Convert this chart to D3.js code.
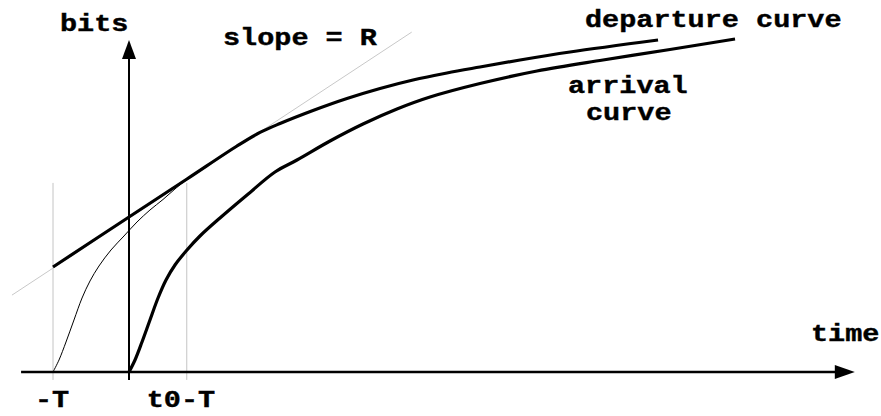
<!DOCTYPE html>
<html>
<head>
<meta charset="utf-8">
<script src="https://cdn.jsdelivr.net/npm/d3@7"></script>
<style>
  body { margin: 0; background: #fff; }
  text { font-family: "Liberation Mono", "DejaVu Sans Mono", monospace; font-weight: bold; font-size: 23px; fill: #000; stroke: #000; stroke-width: 0.4px; }
</style>
</head>
<body>
<svg id="chart" width="881" height="416"></svg>
<script>
// time in units where T = 10, bits in arbitrary units (0..100)
const T = 10;
const t0MinusT = 7.6;

// arrival curve (starts at time 0)
const arrivalT = [0, 0.79, 1.71, 2.76, 3.82, 4.87, 6.05, 7.63, 9.34, 11.97, 15.53, 19.21, 22.1, 26.45, 30.79, 35.26, 39.61, 46.18, 53.68, 62.37, 71.18, 79.74];
const arrivalB = [0, 3.64, 9.09, 15.76, 22.42, 27.88, 32.42, 36.97, 41.21, 46.67, 53.64, 60.61, 64.24, 70.0, 75.15, 79.7, 83.33, 87.42, 91.21, 94.55, 97.73, 100.91];

// departure curve: straight with slope R from -T, then bends toward the shifted arrival
const departureT = [-10, 0, 7.63, 14.21, 17.24, 19.87, 24.21, 28.68, 33.03, 37.37, 41.84, 46.18, 51.45, 58.03, 69.61];
const departureB = [31.82, 46.97, 58.48, 68.48, 72.6, 75.3, 79.24, 82.88, 85.91, 88.48, 90.61, 92.42, 94.55, 96.97, 100.61];

// arrival curve shifted by -T (thin)
const shiftedT = [-10, -9.21, -8.29, -7.24, -6.18, -5.13, -3.95, -2.37, -0.66, 1.05, 2.76, 4.47, 6.05, 7.63];
const shiftedB = [0, 3.64, 9.09, 15.76, 22.42, 27.58, 32.12, 36.97, 41.21, 45.45, 49.09, 52.27, 55.45, 58.48];

// tangent line with slope R
const tangentT = [-15.4, 37.2];
const tangentB = [23.3, 103];

// axis extents
const xAxisT = [-14.2, 95.5];
const yAxisB = [-2.4, 100.6];
const guideB = [-2.4, 57.3];

const tickLabels = ["-T", "t0-T"];

const svg = d3.select('#chart');
const x = d3.scaleLinear().domain([0, 10]).range([129, 205]);
const y = d3.scaleLinear().domain([0, 100]).range([372, 42]);

const line = d3.line().x(d => x(d[0])).y(d => y(d[1]));
const smooth = d3.line().x(d => x(d[0])).y(d => y(d[1])).curve(d3.curveCatmullRom.alpha(0.5));

const zip = (a, b) => a.map((v, i) => [v, b[i]]);

// gray guides
[-T, t0MinusT].forEach(t => {
    svg.append('path')
        .attr('d', line([[t, guideB[0]], [t, guideB[1]]]))
        .attr('stroke', '#c4c4c4').attr('stroke-width', 1).attr('fill', 'none');
});
svg.append('path')
    .attr('d', line(zip(tangentT, tangentB)))
    .attr('stroke', '#c8c8c8').attr('stroke-width', 1).attr('fill', 'none');

// axes
svg.append('path')
    .attr('d', line([[xAxisT[0], 0], [xAxisT[1] - 2.6, 0]]))
    .attr('stroke', '#000').attr('stroke-width', 2.4).attr('fill', 'none');
svg.append('path')
    .attr('d', line([[0, yAxisB[0]], [0, yAxisB[1] - 5]]))
    .attr('stroke', '#000').attr('stroke-width', 2).attr('fill', 'none');

// arrowheads
const xt = x(xAxisT[1]), yt = y(0);
svg.append('path')
    .attr('d', `M${xt},${yt}L${xt - 20},${yt - 7}L${xt - 20},${yt + 7}Z`)
    .attr('fill', '#000');
const ax = x(0), ay = y(yAxisB[1]);
svg.append('path')
    .attr('d', `M${ax},${ay}L${ax - 7},${ay + 19}L${ax + 7},${ay + 19}Z`)
    .attr('fill', '#000');

// curves
svg.append('path')
    .attr('d', smooth(zip(shiftedT, shiftedB)))
    .attr('stroke', '#000').attr('stroke-width', 1).attr('fill', 'none');
svg.append('path')
    .attr('d', smooth(zip(departureT, departureB)))
    .attr('stroke', '#000').attr('stroke-width', 3.2).attr('fill', 'none')
    .attr('stroke-linejoin', 'round');
svg.append('path')
    .attr('d', smooth(zip(arrivalT, arrivalB)))
    .attr('stroke', '#000').attr('stroke-width', 3.2).attr('fill', 'none')
    .attr('stroke-linejoin', 'round');

// labels (text stretched horizontally like the original)
const sx = 1.24;
function label(str, px, py) {
    svg.append('text')
        .attr('transform', `translate(${px},${py}) scale(${sx},1)`)
        .text(str);
}
label('bits', 60, 31);
label('slope = R', 223, 45);
label('departure curve', 585, 27);
label('arrival', 568, 93);
label('curve', 586, 120);
label('time', 811, 341);
label(tickLabels[0], x(-T) - 18, 407);
label(tickLabels[1], x(t0MinusT) - 40, 407);
</script>
</body>
</html>
